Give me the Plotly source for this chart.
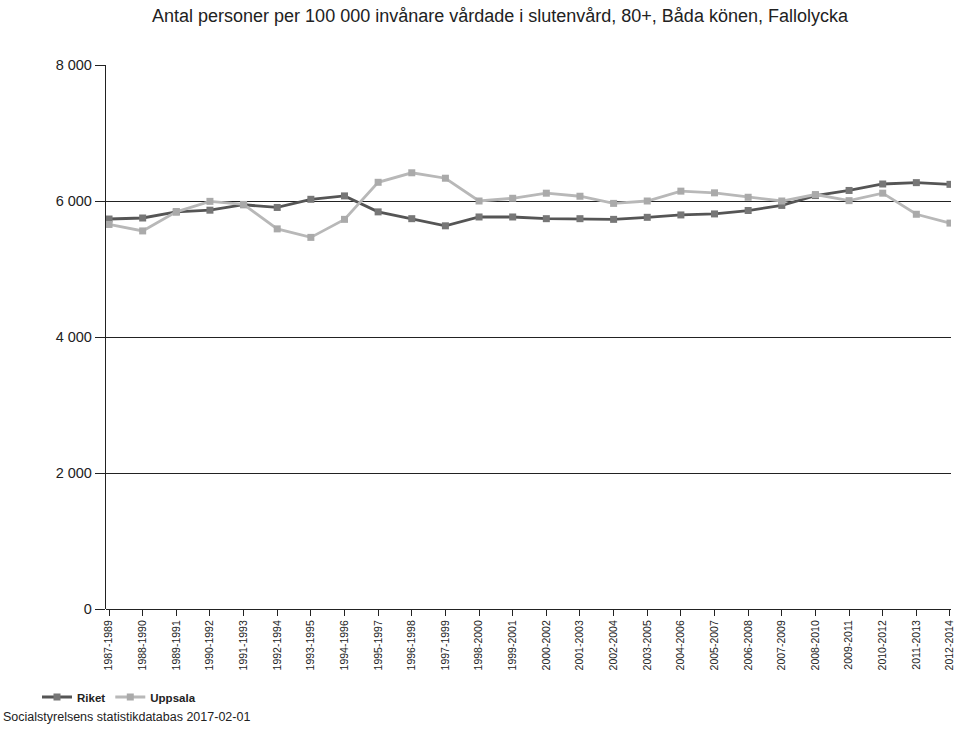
import plotly.graph_objects as go

categories = ["1987-1989", "1988-1990", "1989-1991", "1990-1992", "1991-1993", "1992-1994",
              "1993-1995", "1994-1996", "1995-1997", "1996-1998", "1997-1999", "1998-2000",
              "1999-2001", "2000-2002", "2001-2003", "2002-2004", "2003-2005", "2004-2006",
              "2005-2007", "2006-2008", "2007-2009", "2008-2010", "2009-2011", "2010-2012",
              "2011-2013", "2012-2014"]

riket = [5735, 5750, 5840, 5865, 5945, 5905, 6025, 6075, 5840, 5740, 5635, 5765,
         5765, 5740, 5740, 5730, 5760, 5795, 5810, 5860, 5935, 6080, 6155, 6250,
         6270, 6245]

uppsala = [5655, 5560, 5840, 5995, 5950, 5590, 5465, 5730, 6275, 6415, 6335, 6000,
           6040, 6115, 6070, 5965, 6000, 6145, 6120, 6055, 6000, 6095, 6005, 6115,
           5805, 5675]

y_ticks = [0, 2000, 4000, 6000, 8000]

title_text = "Antal personer per 100 000 invånare vårdade i slutenvård, 80+, Båda könen, Fallolycka"
source_text = "Socialstyrelsens statistikdatabas 2017-02-01"

W, H = 959, 755
L, R, T, B = 106, 4, 65, 146
PW, PH = W - L - R, H - T - B

fig = go.Figure()
fig.add_trace(go.Scatter(
    x=list(range(len(categories))), y=riket, name="Riket", mode="lines+markers",
    line=dict(color="#555555", width=2.8),
    marker=dict(symbol="square", size=7, color="#777777"),
))
fig.add_trace(go.Scatter(
    x=list(range(len(categories))), y=uppsala, name="Uppsala", mode="lines+markers",
    line=dict(color="#b8b8b8", width=2.8),
    marker=dict(symbol="square", size=7, color="#aaaaaa"),
))

fig.update_layout(
    width=W, height=H,
    margin=dict(l=L, r=R, t=T, b=B),
    paper_bgcolor="white", plot_bgcolor="white",
    separators=", ",
    font=dict(family="Liberation Sans, Arial, sans-serif", color="#222", size=11),
    title=dict(text=title_text, xref="container", yref="container",
               x=500 / W, xanchor="center", y=1 - 16 / H, yanchor="middle",
               font=dict(size=18, color="#222")),
    showlegend=True,
    legend=dict(orientation="h", xref="container", yref="container",
                x=37 / W, y=1 - 697 / H, xanchor="left", yanchor="middle",
                font=dict(size=11.5, color="#222", weight="bold"), itemwidth=30,
                bgcolor="rgba(0,0,0,0)"),
    xaxis=dict(
        tickmode="array", tickvals=list(range(len(categories))), ticktext=categories,
        range=[-0.09, 25.03], tickangle=-90,
        showgrid=False, zeroline=False,
        showline=False, ticklabeloverflow="allow",
        ticks="outside", ticklen=6, tickcolor="#222", tickwidth=1,
        tickfont=dict(size=10.5, family="Liberation Sans Narrow, Arial Narrow, Liberation Sans, sans-serif"),
    ),
    yaxis=dict(
        range=[0, 8000], tickvals=y_ticks, tickformat=",d",
        showgrid=True, gridcolor="#222", gridwidth=1.3,
        zeroline=True, zerolinecolor="#222", zerolinewidth=1.3,
        showline=True, linecolor="#222", linewidth=1.3,
        ticks="outside", ticklen=10, tickcolor="#222",
        tickfont=dict(size=14.5, color="#222"),
    ),
    annotations=[dict(
        text=source_text, xref="paper", yref="paper",
        x=-(L - 1) / PW, y=-108 / PH, xanchor="left", yanchor="middle",
        showarrow=False, font=dict(size=12.5, color="#222"),
    )],
)

fig.write_html("out.html", config={"displayModeBar": False},
               post_script="document.body.style.margin='0px';")
